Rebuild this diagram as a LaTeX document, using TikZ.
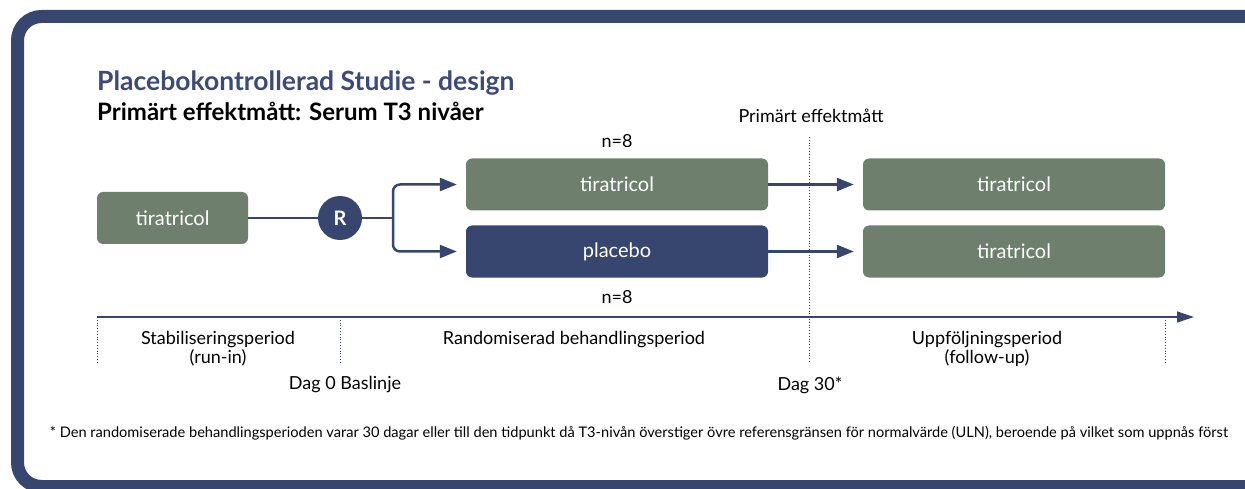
\documentclass[tikz,border=0pt]{standalone}
\usepackage{fontspec}
\setmainfont{Lato}
\usetikzlibrary{arrows.meta}
\definecolor{navy}{HTML}{36466F}
\definecolor{sage}{HTML}{6E7F6E}
\definecolor{titleblue}{HTML}{3B4A7A}
\tikzset{
  box/.style={rounded corners=6pt, minimum width=302pt, minimum height=52pt, inner sep=0pt, text=white, font=\fontsize{20}{22}\selectfont},
  gbox/.style={box, fill=sage},
  nbox/.style={box, fill=navy},
  conn/.style={draw=navy, line width=2.5pt},
  arr/.style={conn, -{Triangle[length=17pt,width=13pt]}, shorten >=9pt},
  tick/.style={draw=navy, line width=0.8pt, dotted},
  lbl/.style={font=\fontsize{18}{19}\selectfont, align=center, inner sep=0pt},
}
\begin{document}
\begin{tikzpicture}[x=1pt,y=-1pt]
\useasboundingbox (0,0) rectangle (1245,489);
\begin{scope}
\clip (0,0) rectangle (1245,489);
\draw[navy, line width=13pt, rounded corners=24pt] (17.5,16.5) rectangle (1300,486.5);
\end{scope}
% title
\node[anchor=base west, inner sep=0pt, text=titleblue, font=\fontsize{26.5}{28}\selectfont\bfseries] (title) at (97,91) {Placebokontrollerad Studie - design};
\node[anchor=base west, inner sep=0pt, font=\fontsize{24}{25}\selectfont\bfseries] (sub) at (97,121) {Primärt effektmått: Serum T3 nivåer};
% boxes
\node[gbox, minimum width=151pt, minimum height=52pt] (b0) at (172.5,218) {tiratricol};
\node[circle, fill=navy, minimum size=44pt, inner sep=0pt, text=white, font=\fontsize{20}{22}\selectfont\bfseries] (R) at (340,218) {R};
\node[gbox] (t1) at (617,184.5) {tiratricol};
\node[nbox] (p1) at (617,251.5) {placebo};
\node[gbox] (t2) at (1014,184.5) {tiratricol};
\node[gbox] (t3) at (1014,251.5) {tiratricol};
\coordinate (split) at (393,218);
\draw[conn] (b0.east) -- (R.west);
\draw[conn] (R.east) -- (split);
\draw[arr, rounded corners=7pt] (split) |- (t1.west);
\draw[arr, rounded corners=7pt] (split) |- (p1.west);
\draw[arr] (t1.east) -- (t2.west);
\draw[arr] (p1.east) -- (t3.west);
% n labels
\node[lbl] (n1) at (617,141) {n=8};
\node[lbl] (n2) at (617,297) {n=8};
\node[lbl] (pe) at (811,116) {Primärt effektmått};
% timeline
\coordinate (tl0) at (97,317);
\coordinate (tl1) at (1194,317);
\draw[navy, line width=1.2pt, -{Triangle[length=17pt,width=11pt]}] (tl0) -- (tl1);
\coordinate (d0) at (97,363);
\coordinate (d1a) at (340,317);
\coordinate (d1b) at (340,363);
\coordinate (d2a) at (809,137);
\coordinate (d2b) at (809,363);
\coordinate (d3a) at (1165,317);
\coordinate (d3b) at (1165,363);
\draw[tick] (tl0) -- (d0);
\draw[tick] (d1a) -- (d1b);
\draw[tick] (d2a) -- (d2b);
\draw[tick] (d3a) -- (d3b);
\node[lbl] (s1) at (218,349) {Stabiliseringsperiod\\(run-in)};
\node[lbl] (s2) at (574,340) {Randomiserad behandlingsperiod};
\node[lbl] (s3) at (987,349) {Uppföljningsperiod\\(follow-up)};
\node[lbl] (dag0) at (345,385) {Dag 0 Baslinje};
\node[lbl] (dag30) at (810,385) {Dag 30*};
\node[anchor=base, inner sep=0pt, font=\fontsize{14.6}{16}\selectfont] (fn) at (639,437) {* Den randomiserade behandlingsperioden varar 30 dagar eller till den tidpunkt då T3-nivån överstiger övre referensgränsen för normalvärde (ULN), beroende på vilket som uppnås först};
\end{tikzpicture}
\end{document}
